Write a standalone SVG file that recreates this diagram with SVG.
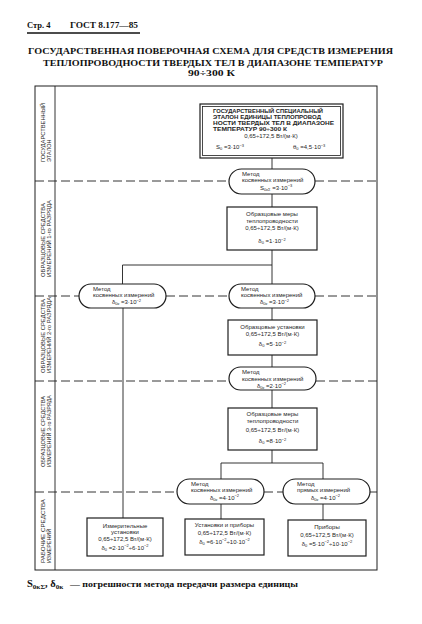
<svg xmlns="http://www.w3.org/2000/svg" width="422" height="624" viewBox="0 0 422 624">
<style>
.t{font-family:"Liberation Sans",Arial,sans-serif;font-size:6px;fill:#1e1e1e}
.tb{font-family:"Liberation Sans",Arial,sans-serif;font-size:5.6px;font-weight:bold;fill:#1e1e1e}
.lab{font-family:"Liberation Sans",Arial,sans-serif;font-size:5.4px;fill:#1e1e1e}
.hd{font-family:"Liberation Serif","Times New Roman",serif;font-weight:bold;fill:#111}
.s{font-size:4px}
.box{fill:#fff;stroke:#1e1e1e;stroke-width:1.2}
.ln{stroke:#1e1e1e;stroke-width:0.9;fill:none}
.dash{stroke:#1e1e1e;stroke-width:0.9;fill:none;stroke-dasharray:9 4}
.fr{stroke:#1e1e1e;stroke-width:1;fill:none}
</style>
<rect width="422" height="624" fill="#fff"/>

<g id="header">
<text class="hd" x="27" y="28" font-size="8.5" font-family="Liberation Sans, Arial, sans-serif">Стр. 4</text>
<text class="hd" x="70" y="28" font-size="8.5" textLength="68" lengthAdjust="spacingAndGlyphs">ГОСТ 8.177—85</text>
<line x1="27" y1="33" x2="140" y2="33" stroke="#111" stroke-width="1.3"/>
<text class="hd" x="28" y="53.5" font-size="9" textLength="365" lengthAdjust="spacingAndGlyphs">ГОСУДАРСТВЕННАЯ ПОВЕРОЧНАЯ СХЕМА ДЛЯ СРЕДСТВ ИЗМЕРЕНИЯ</text>
<text class="hd" x="43" y="65.5" font-size="9" textLength="340" lengthAdjust="spacingAndGlyphs">ТЕПЛОПРОВОДНОСТИ ТВЕРДЫХ ТЕЛ В ДИАПАЗОНЕ ТЕМПЕРАТУР</text>
<text class="hd" x="188" y="75.5" font-size="9" textLength="47" lengthAdjust="spacingAndGlyphs">90÷300 К</text>
</g>

<g id="frame">
<rect class="fr" x="35" y="86" width="342" height="484"/>
<line class="ln" x1="55" y1="86" x2="55" y2="570"/>
</g>

<g id="row-labels">
<text class="lab" transform="translate(45,162) rotate(-90)" textLength="59" lengthAdjust="spacingAndGlyphs">ГОСУДАРСТВЕННЫЙ</text>
<text class="lab" transform="translate(50.5,162) rotate(-90)">ЭТАЛОН</text>
<text class="lab" transform="translate(45,277) rotate(-90)" textLength="74" lengthAdjust="spacingAndGlyphs">ОБРАЗЦОВЫЕ СРЕДСТВА</text>
<text class="lab" transform="translate(50.5,277) rotate(-90)" textLength="77" lengthAdjust="spacingAndGlyphs">ИЗМЕРЕНИЙ 1-го РАЗРЯДА</text>
<text class="lab" transform="translate(45,373) rotate(-90)" textLength="74" lengthAdjust="spacingAndGlyphs">ОБРАЗЦОВЫЕ СРЕДСТВА</text>
<text class="lab" transform="translate(50.5,373) rotate(-90)" textLength="76" lengthAdjust="spacingAndGlyphs">ИЗМЕРЕНИЙ 2-го РАЗРЯДА</text>
<text class="lab" transform="translate(45,467) rotate(-90)" textLength="71" lengthAdjust="spacingAndGlyphs">ОБРАЗЦОВЫЕ СРЕДСТВА</text>
<text class="lab" transform="translate(50.5,467) rotate(-90)" textLength="72" lengthAdjust="spacingAndGlyphs">ИЗМЕРЕНИЙ 3-го РАЗРЯДА</text>
<text class="lab" transform="translate(45,563) rotate(-90)" textLength="64" lengthAdjust="spacingAndGlyphs">РАБОЧИЕ СРЕДСТВА</text>
<text class="lab" transform="translate(50.5,563) rotate(-90)">ИЗМЕРЕНИЙ</text>
</g>

<g id="connectors">
<line class="dash" x1="35" y1="181" x2="229" y2="181"/>
<line class="dash" x1="315" y1="181" x2="377" y2="181"/>
<line class="dash" x1="35" y1="296" x2="79" y2="296"/>
<line class="dash" x1="166" y1="296" x2="229" y2="296"/>
<line class="dash" x1="315" y1="296" x2="377" y2="296"/>
<line class="dash" x1="35" y1="381" x2="229" y2="381"/>
<line class="dash" x1="316" y1="381" x2="377" y2="381"/>
<line class="dash" x1="35" y1="492" x2="177" y2="492"/>
<line class="dash" x1="264" y1="492" x2="283" y2="492"/>
<line class="dash" x1="370" y1="492" x2="377" y2="492"/>
<line class="ln" x1="272" y1="158" x2="272" y2="169"/>
<line class="ln" x1="272" y1="194" x2="272" y2="207"/>
<line class="ln" x1="272" y1="250" x2="272" y2="284"/>
<polyline class="ln" points="272,265 122.5,265 122.5,284"/>
<line class="ln" x1="272" y1="308" x2="272" y2="320"/>
<line class="ln" x1="123" y1="308" x2="123" y2="518"/>
<line class="ln" x1="272" y1="355" x2="272" y2="367"/>
<line class="ln" x1="272" y1="390" x2="272" y2="408"/>
<line class="ln" x1="272" y1="450" x2="272" y2="463"/>
<polyline class="ln" points="221,479 221,463 323,463 323,479"/>
<line class="ln" x1="221" y1="504" x2="221" y2="519"/>
<line class="ln" x1="323" y1="504" x2="323" y2="520"/>
</g>

<g id="state-standard">
<rect class="box" x="200" y="104" width="143" height="54" stroke-width="1.4"/>
<rect x="202.5" y="106.5" width="138" height="49" fill="none" stroke="#1e1e1e" stroke-width="0.8"/>
<text class="tb" x="213" y="113" textLength="110" lengthAdjust="spacingAndGlyphs">ГОСУДАРСТВЕННЫЙ СПЕЦИАЛЬНЫЙ</text>
<text class="tb" x="213" y="119" textLength="108" lengthAdjust="spacingAndGlyphs">ЭТАЛОН ЕДИНИЦЫ ТЕПЛОПРОВОД</text>
<text class="tb" x="213" y="125" textLength="121" lengthAdjust="spacingAndGlyphs">НОСТИ ТВЕРДЫХ ТЕЛ В ДИАПАЗОНЕ</text>
<text class="tb" x="213" y="131" textLength="74" lengthAdjust="spacingAndGlyphs">ТЕМПЕРАТУР 90÷300 К</text>
<text class="t" x="271" y="138" text-anchor="middle">0,65÷172,5 Вт/(м·К)</text>
<text class="t" x="216" y="149">S<tspan class="s" dy="1">0</tspan><tspan dy="-1"> =3·10</tspan><tspan class="s" dy="-2.2">−3</tspan></text>
<text class="t" x="293" y="149">θ<tspan class="s" dy="1">0</tspan><tspan dy="-1"> =4,5·10</tspan><tspan class="s" dy="-2.2">−3</tspan></text>
</g>

<g id="method-1">
<rect class="box" x="229" y="169" width="86" height="25" rx="12.5"/>
<text class="t" x="242" y="175.5">Метод</text>
<text class="t" x="242" y="182">косвенных измерений</text>
<text class="t" x="260" y="189.5">S<tspan class="s" dy="1">0кΣ</tspan><tspan dy="-1"> =3·10</tspan><tspan class="s" dy="-2.2">−3</tspan></text>
</g>

<g id="standard-measures-1">
<rect class="box" x="227" y="207" width="90" height="43"/>
<text class="t" x="272" y="216" text-anchor="middle">Образцовые меры</text>
<text class="t" x="272" y="222.5" text-anchor="middle">теплопроводности</text>
<text class="t" x="272" y="229.5" text-anchor="middle">0,65÷172,5 Вт/(м·К)</text>
<text class="t" x="272" y="243" text-anchor="middle">δ<tspan class="s" dy="1">0</tspan><tspan dy="-1"> =1·10</tspan><tspan class="s" dy="-2.2">−2</tspan></text>
</g>

<g id="method-2-left">
<rect class="box" x="79" y="284" width="87" height="24" rx="12"/>
<text class="t" x="93" y="290.5">Метод</text>
<text class="t" x="93" y="297">косвенных измерений</text>
<text class="t" x="112" y="304">δ<tspan class="s" dy="1">0к</tspan><tspan dy="-1"> =3·10</tspan><tspan class="s" dy="-2.2">−2</tspan></text>
</g>

<g id="method-2-main">
<rect class="box" x="229" y="284" width="86" height="24" rx="12"/>
<text class="t" x="241" y="290.5">Метод</text>
<text class="t" x="241" y="297">косвенных измерений</text>
<text class="t" x="260" y="304">δ<tspan class="s" dy="1">0к</tspan><tspan dy="-1"> =3·10</tspan><tspan class="s" dy="-2.2">−2</tspan></text>
</g>

<g id="standard-installations-2">
<rect class="box" x="228" y="320" width="89" height="35"/>
<text class="t" x="272.5" y="328.5" text-anchor="middle">Образцовые установки</text>
<text class="t" x="272.5" y="336" text-anchor="middle">0,65÷172,5 Вт/(м·К)</text>
<text class="t" x="272.5" y="346" text-anchor="middle">δ<tspan class="s" dy="1">0</tspan><tspan dy="-1"> =5·10</tspan><tspan class="s" dy="-2.2">−2</tspan></text>
</g>

<g id="method-3">
<rect class="box" x="229" y="367" width="87" height="23" rx="11.5"/>
<text class="t" x="242" y="374">Метод</text>
<text class="t" x="242" y="380.5">косвенных измерений</text>
<text class="t" x="257" y="387.5">δ<tspan class="s" dy="1">0к</tspan><tspan dy="-1"> =2·10</tspan><tspan class="s" dy="-2.2">−2</tspan></text>
</g>

<g id="standard-measures-3">
<rect class="box" x="228" y="408" width="89" height="42"/>
<text class="t" x="272.5" y="416" text-anchor="middle">Образцовые меры</text>
<text class="t" x="272.5" y="423" text-anchor="middle">теплопроводности</text>
<text class="t" x="272.5" y="431.5" text-anchor="middle">0,65÷172,5 Вт/(м·К)</text>
<text class="t" x="272.5" y="443" text-anchor="middle">δ<tspan class="s" dy="1">0</tspan><tspan dy="-1"> =8·10</tspan><tspan class="s" dy="-2.2">−2</tspan></text>
</g>

<g id="method-4-indirect">
<rect class="box" x="177" y="479" width="87" height="25" rx="12.5"/>
<text class="t" x="191" y="485.5">Метод</text>
<text class="t" x="191" y="492">косвенных измерений</text>
<text class="t" x="210" y="499.5">δ<tspan class="s" dy="1">0к</tspan><tspan dy="-1"> =4·10</tspan><tspan class="s" dy="-2.2">−2</tspan></text>
</g>

<g id="method-4-direct">
<rect class="box" x="283" y="479" width="87" height="25" rx="12.5"/>
<text class="t" x="297" y="485.5">Метод</text>
<text class="t" x="297" y="492">прямых измерений</text>
<text class="t" x="311" y="499.5">δ<tspan class="s" dy="1">0к</tspan><tspan dy="-1"> =4·10</tspan><tspan class="s" dy="-2.2">−2</tspan></text>
</g>

<g id="working-installations">
<rect class="box" x="87" y="518" width="76" height="38"/>
<text class="t" x="125" y="527.5" text-anchor="middle">Измерительные</text>
<text class="t" x="125" y="534" text-anchor="middle">установки</text>
<text class="t" x="125" y="541" text-anchor="middle">0,65÷172,5 Вт/(м·К)</text>
<text class="t" x="125" y="549.5" text-anchor="middle">δ<tspan class="s" dy="1">0</tspan><tspan dy="-1"> =2·10</tspan><tspan class="s" dy="-2.2">−2</tspan><tspan dy="2.2">÷6·10</tspan><tspan class="s" dy="-2.2">−2</tspan></text>
</g>

<g id="working-installations-devices">
<rect class="box" x="185" y="519" width="79" height="36"/>
<text class="t" x="224.5" y="527" text-anchor="middle">Установки и приборы</text>
<text class="t" x="224.5" y="534.5" text-anchor="middle">0,65÷172,5 Вт/(м·К)</text>
<text class="t" x="224.5" y="543.5" text-anchor="middle">δ<tspan class="s" dy="1">0</tspan><tspan dy="-1"> =6·10</tspan><tspan class="s" dy="-2.2">−2</tspan><tspan dy="2.2">÷10·10</tspan><tspan class="s" dy="-2.2">−2</tspan></text>
</g>

<g id="working-devices">
<rect class="box" x="288" y="520" width="78" height="36"/>
<text class="t" x="327" y="529" text-anchor="middle">Приборы</text>
<text class="t" x="327" y="536.5" text-anchor="middle">0,65÷172,5 Вт/(м·К)</text>
<text class="t" x="327" y="545.5" text-anchor="middle">δ<tspan class="s" dy="1">0</tspan><tspan dy="-1"> =5·10</tspan><tspan class="s" dy="-2.2">−2</tspan><tspan dy="2.2">÷10·10</tspan><tspan class="s" dy="-2.2">−2</tspan></text>
</g>

<g id="footnote">
<text class="hd" x="27" y="587" font-size="10.5">S<tspan font-size="7" dy="1.5">0кΣ</tspan><tspan dy="-1.5">, δ</tspan><tspan font-size="7" dy="1.5">0к</tspan></text>
<text class="hd" x="70" y="587" font-size="9" textLength="228" lengthAdjust="spacingAndGlyphs">— погрешности метода передачи размера единицы</text>
</g>
</svg>
